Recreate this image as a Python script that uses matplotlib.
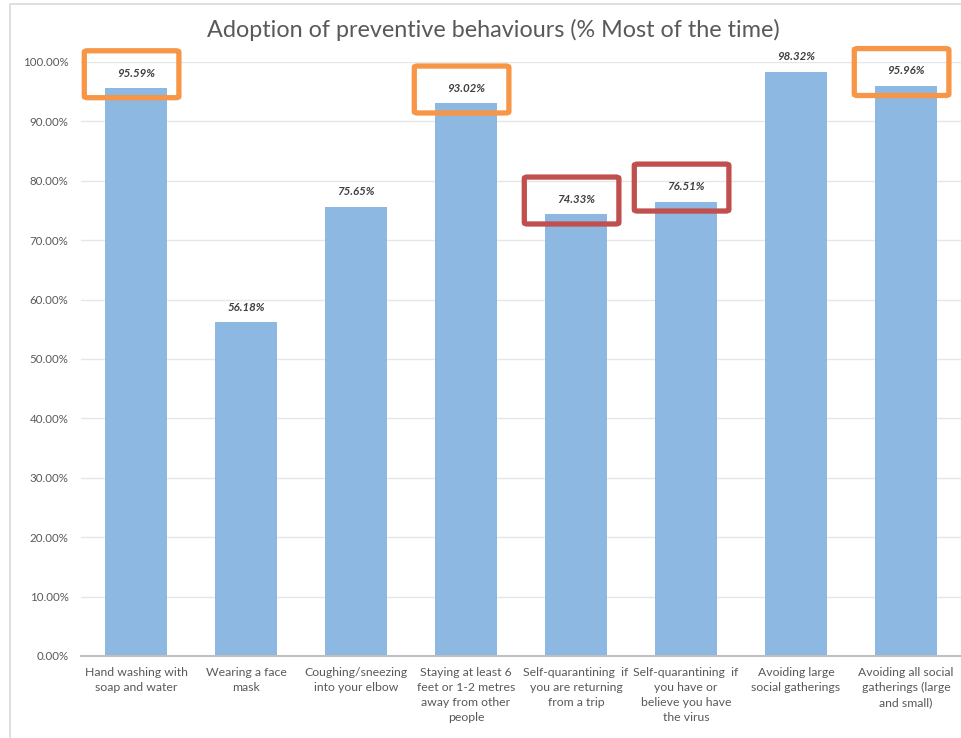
import matplotlib.pyplot as plt
from matplotlib.patches import FancyBboxPatch, Rectangle
from matplotlib.ticker import FuncFormatter

# datos del grafico
categories = [
    "Hand washing with\nsoap and water",
    "Wearing a face\nmask",
    "Coughing/sneezing\ninto your elbow",
    "Staying at least 6\nfeet or 1-2 metres\naway from other\npeople",
    "Self-quarantining  if\nyou are returning\nfrom a trip",
    "Self-quarantining  if\nyou have or\nbelieve you have\nthe virus",
    "Avoiding large\nsocial gatherings",
    "Avoiding all social\ngatherings (large\nand small)",
]
values = [95.59, 56.18, 75.65, 93.02, 74.33, 76.51, 98.32, 95.96]
orange_idx = [0, 3, 7]
red_idx = [4, 5]

plt.rcParams['font.family'] = ['Lato', 'DejaVu Sans']

fig = plt.figure(figsize=(9.61, 7.38), dpi=100)
ax = fig.add_axes([81 / 961, 1 - 656 / 738, 880 / 961, (656 - 62) / 738])

# marco del area del grafico
fig.patches.append(Rectangle((10 / 961, -0.05), 1.0, 1 - 4 / 738 + 0.05,
                             transform=fig.transFigure, fill=False,
                             edgecolor='#D9D9D9', linewidth=1.2))

x = list(range(len(values)))
bars = ax.bar(x, values, width=0.56, color='#8DB8E2', zorder=2)

ax.set_xlim(-0.5, len(values) - 0.5)
ax.set_ylim(0, 100)
ax.set_yticks(range(0, 101, 10))
ax.yaxis.set_major_formatter(FuncFormatter(lambda v, p: f'{v:.2f}%'))
ax.grid(axis='y', color='#E6E6E6', linewidth=1, zorder=0)
ax.set_xticks(x)
ax.set_xticklabels(categories, fontsize=8.8, color='#595959', linespacing=1.45)
ax.tick_params(axis='both', length=0, labelcolor='#595959')
ax.tick_params(axis='y', labelsize=8.3, pad=9)
ax.tick_params(axis='x', pad=8)
for s in ['top', 'right', 'left']:
    ax.spines[s].set_visible(False)
ax.spines['bottom'].set_color('#BFBFBF')
ax.spines['bottom'].set_linewidth(1.5)

for bar in bars:
    h = bar.get_height()
    ax.text(bar.get_x() + bar.get_width() / 2, h + 1.6, f'{h:.2f}%',
            ha='center', va='bottom', fontsize=8.3, fontweight='bold',
            fontstyle='italic', color='#404040', clip_on=False)

def highlight(i, color):
    v = values[i]
    box = FancyBboxPatch((i - 0.47, v - 1.6), 0.86, 7.9,
                         boxstyle='round,pad=0,rounding_size=0.03',
                         fill=False, edgecolor=color, linewidth=3.8,
                         clip_on=False, zorder=5, mutation_aspect=8)
    ax.add_patch(box)

for i in orange_idx:
    highlight(i, '#F79646')
for i in red_idx:
    highlight(i, '#C0504D')

fig.text(493 / 961, 1 - 30 / 738, 'Adoption of preventive behaviours (% Most of the time)',
         ha='center', va='center', fontsize=16.8, color='#595959')

fig.savefig('out.png', dpi=100)
